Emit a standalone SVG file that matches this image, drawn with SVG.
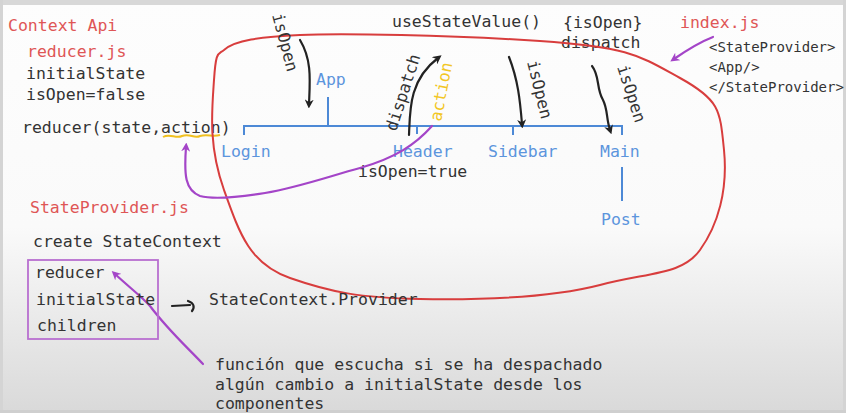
<svg xmlns="http://www.w3.org/2000/svg" width="846" height="413" viewBox="0 0 846 413">
<defs>
<linearGradient id="bg" x1="0" y1="0" x2="0" y2="1" gradientUnits="objectBoundingBox">
<stop offset="0" stop-color="#fdfdfd"/>
<stop offset="0.55" stop-color="#fafafa"/>
<stop offset="1" stop-color="#d9d9d9"/>
</linearGradient>
<marker id="ahBlack" viewBox="0 0 10 10" refX="5" refY="5" markerWidth="9" markerHeight="9" markerUnits="userSpaceOnUse" orient="auto">
<path d="M0,0 L10,5 L0,10 L3,5 Z" fill="#222"/>
</marker>
<marker id="ahPurple" viewBox="0 0 10 10" refX="5" refY="5" markerWidth="9" markerHeight="9" markerUnits="userSpaceOnUse" orient="auto">
<path d="M0,0 L10,5 L0,10 L3,5 Z" fill="#a445c8"/>
</marker>
</defs>
<style>
text{font-family:"DejaVu Sans Mono","Liberation Mono",monospace;font-size:16.5px;fill:#333}
.red{fill:#df5656}
.blue{fill:#5c95dd}
.small{font-size:14px}
.yellow{fill:#f2c624}
.tree{stroke:#4d89d6;stroke-width:2;fill:none}
.ink{stroke:#222;stroke-width:2.2;fill:none;stroke-linecap:round}
.purple{stroke:#a445c8;stroke-width:2.2;fill:none;stroke-linecap:round}
.loop{stroke:#d83d3d;stroke-width:2;fill:none}
</style>
<rect x="0" y="0" width="846" height="413" fill="url(#bg)"/>
<rect x="0" y="0" width="846" height="5" fill="#d8d8d8"/>
<rect x="0" y="0" width="3" height="413" fill="#d4d4d4"/>
<rect x="843" y="0" width="3" height="413" fill="#d4d4d4"/>
<rect x="0" y="410" width="846" height="3" fill="#cfcfcf"/>

<g id="reducer-js">
<text class="red" x="8" y="31">Context Api</text>
<text class="red" x="27" y="57">reducer.js</text>
<text x="26" y="79">initialState</text>
<text x="26" y="100">isOpen=false</text>
<text x="22" y="133">reducer(state,action)</text>
<path d="M163,137 C170,133 176,139 182,136 C190,133 194,139 200,136 C207,134 213,137 220,135" stroke="#f0c020" stroke-width="2" fill="none"/>
</g>

<g id="top-labels">
<text x="392" y="27">useStateValue()</text>
<text x="563" y="28">{isOpen}</text>
<text x="561" y="48">dispatch</text>
</g>

<g id="index-js">
<text class="red" x="680" y="28">index.js</text>
<text class="small" x="709" y="52">&lt;StateProvider&gt;</text>
<text class="small" x="709" y="72">&lt;App/&gt;</text>
<text class="small" x="709" y="92">&lt;/StateProvider&gt;</text>
</g>

<g id="context-loop">
<path class="loop" d="M224,50 C235,40 260,37 300,35 S450,35 540,41 S640,56 680,78 S720,110 724,150 S718,225 700,250 S650,272 600,285 S480,300 420,299 S330,292 290,278 S240,235 224,190 S212,110 214,80 S218,55 224,50 Z"/>
</g>

<g id="tree-lines">
<path class="tree" d="M244,135 L244,126 L622,126 L622,135 M328,97 L328,126 M417,126 L417,134 M513,126 L513,135 M622,167 L622,201"/>
</g>

<g id="node-app"><text class="blue" x="316" y="85">App</text></g>
<g id="node-login"><text class="blue" x="221" y="157">Login</text></g>
<g id="node-header"><text class="blue" x="393" y="157">Header</text><text x="358" y="177">isOpen=true</text></g>
<g id="node-sidebar"><text class="blue" x="488" y="157">Sidebar</text></g>
<g id="node-main"><text class="blue" x="600" y="157">Main</text></g>
<g id="node-post"><text class="blue" x="601" y="225">Post</text></g>

<g id="rotated-labels">
<text transform="translate(272,15) rotate(75)">isOpen</text>
<text transform="translate(396,132) rotate(-72)">dispatch</text>
<text class="yellow" transform="translate(441,122) rotate(-79)">action</text>
<text transform="translate(527,62) rotate(76)">isOpen</text>
<text transform="translate(617,67) rotate(72)">isOpen</text>
</g>

<g id="connectors">
<path class="ink" d="M300,40 C312,60 310,80 309,104" marker-end="url(#ahBlack)"/>
<path class="ink" d="M409,135 C410,110 409,80 438,58" marker-end="url(#ahBlack)"/>
<path class="ink" d="M509,57 C518,80 520,100 522,124" marker-end="url(#ahBlack)"/>
<path class="ink" d="M592,66 C600,76 596,88 603,100 C608,110 606,118 610,130" marker-end="url(#ahBlack)"/>
<path class="purple" d="M432,126 C415,145 395,158 360,168 C330,176 300,187 265,193 C240,197 215,200 200,196 C185,190 184,175 186,147" marker-end="url(#ahPurple)"/>
<path class="purple" d="M713,37 C700,42 690,48 674,59" marker-end="url(#ahPurple)"/>
<path class="purple" d="M203,364 C185,345 168,330 150,306 C140,295 130,288 115,274" marker-end="url(#ahPurple)"/>
<path class="ink" stroke-width="2" d="M172,306 L190,305 M188,301 C194,303 195,307 192,311"/>
</g>

<g id="stateprovider-js">
<text class="red" x="30" y="213">StateProvider.js</text>
<text x="33" y="247">create StateContext</text>
<rect x="28" y="260" width="130" height="79" fill="none" stroke="#b86fd0" stroke-width="1.8"/>
<text x="35" y="278">reducer</text>
<text x="36" y="305">initialState</text>
<text x="37" y="331">children</text>
<text x="209" y="305">StateContext.Provider</text>
</g>

<g id="note">
<text x="215" y="370">función que escucha si se ha despachado</text>
<text x="215" y="390">algún cambio a initialState desde los</text>
<text x="215" y="409">componentes</text>
</g>
</svg>
